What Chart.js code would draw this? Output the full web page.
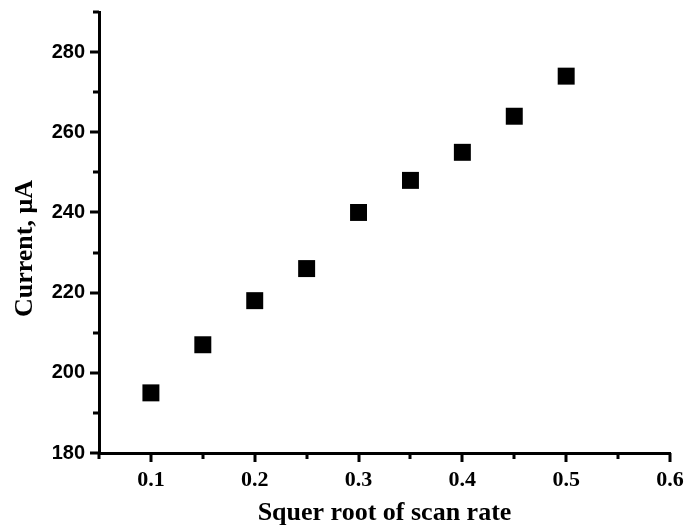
<!DOCTYPE html>
<html>
<head>
<meta charset="utf-8">
<script src="https://cdn.jsdelivr.net/npm/chart.js@4/dist/chart.umd.min.js"></script>
<style>
  html, body { margin: 0; padding: 0; background: #fff; }
  canvas { display: block; }
</style>
</head>
<body>
<canvas id="plot" width="686" height="529"></canvas>
<script>
// square root of scan rate vs. peak current
const scanRateRoot = [0.1, 0.15, 0.2, 0.25, 0.3, 0.35, 0.4, 0.45, 0.5];
const currentUA = [195, 207, 218, 226, 240, 248, 255, 264, 274];

const xTickLabels = [0.1, 0.2, 0.3, 0.4, 0.5, 0.6];
const yTickLabels = [180, 200, 220, 240, 260, 280];
const xMinorTicks = [0.05, 0.15, 0.25, 0.35, 0.45, 0.55];
const yMinorTicks = [190, 210, 230, 250, 270, 290];

const serif = '"Liberation Serif", "Times New Roman", serif';

// outward ticks (long for labelled values, short in between) and the y title
const axisDecor = {
    id: 'axisDecor',
    afterDraw(chart) {
        const ctx = chart.ctx;
        const xs = chart.scales.x, ys = chart.scales.y;
        const x0 = ys.right, y0 = xs.top;
        ctx.save();
        ctx.strokeStyle = '#000';
        ctx.lineWidth = 3;
        ctx.beginPath();
        const xt = (v, len) => {
            const px = Math.round(xs.getPixelForValue(v));
            ctx.moveTo(px, y0); ctx.lineTo(px, y0 + len);
        };
        const yt = (v, len) => {
            const py = Math.round(ys.getPixelForValue(v));
            ctx.moveTo(x0, py); ctx.lineTo(x0 - len, py);
        };
        xTickLabels.forEach(v => xt(v, 9));
        xMinorTicks.forEach(v => xt(v, 6));
        yTickLabels.forEach(v => yt(v, 9));
        yMinorTicks.forEach(v => yt(v, 6));
        ctx.stroke();

        ctx.translate(25, ys.getPixelForValue(231));
        ctx.rotate(-Math.PI / 2);
        ctx.fillStyle = '#000';
        ctx.font = 'bold 26px ' + serif;
        ctx.textAlign = 'center';
        ctx.textBaseline = 'middle';
        ctx.fillText('Current, μA', 0, 0);
        ctx.restore();
    }
};

// hidden grid ticks only reserve room between the axis line and its labels
const spacerGrid = len => ({
    display: true,
    drawOnChartArea: false,
    drawTicks: true,
    tickLength: len,
    color: 'rgba(0,0,0,0)',
    tickColor: 'rgba(0,0,0,0)'
});

new Chart(document.getElementById('plot'), {
    type: 'scatter',
    data: {
        datasets: [{
            data: scanRateRoot.map((x, i) => ({ x: x, y: currentUA[i] })),
            pointStyle: 'rect',
            pointRadius: 12,
            pointHoverRadius: 12,
            backgroundColor: '#000',
            borderColor: '#000',
            borderWidth: 0
        }]
    },
    options: {
        responsive: false,
        animation: false,
        events: [],
        layout: { padding: { top: 0, right: 16, bottom: 0, left: 0 } },
        plugins: { legend: { display: false }, tooltip: { enabled: false } },
        scales: {
            x: {
                type: 'linear',
                min: 0.05,
                max: 0.6,
                afterBuildTicks: s => { s.ticks = xTickLabels.map(v => ({ value: v })); },
                afterFit: s => { s.height = 76; },
                grid: spacerGrid(14),
                border: { display: true, color: '#000', width: 3 },
                ticks: {
                    color: '#000',
                    padding: 0,
                    maxRotation: 0,
                    font: { family: serif, size: 22, weight: 'bold' },
                    callback: v => v.toFixed(1)
                },
                title: {
                    display: true,
                    text: 'Squer root of scan rate',
                    color: '#000',
                    padding: { top: 0, bottom: 0 },
                    font: { family: serif, size: 26, weight: 'bold' }
                }
            },
            y: {
                type: 'linear',
                min: 180,
                max: 290,
                afterBuildTicks: s => { s.ticks = yTickLabels.map(v => ({ value: v })); },
                afterFit: s => { s.width = 99; },
                grid: spacerGrid(14),
                border: { display: true, color: '#000', width: 3 },
                ticks: {
                    color: '#000',
                    padding: 0,
                    font: { family: '"Liberation Sans", Arial, sans-serif', size: 20, weight: 'bold' }
                },
                title: { display: false }
            }
        }
    },
    plugins: [axisDecor]
});
</script>
</body>
</html>
